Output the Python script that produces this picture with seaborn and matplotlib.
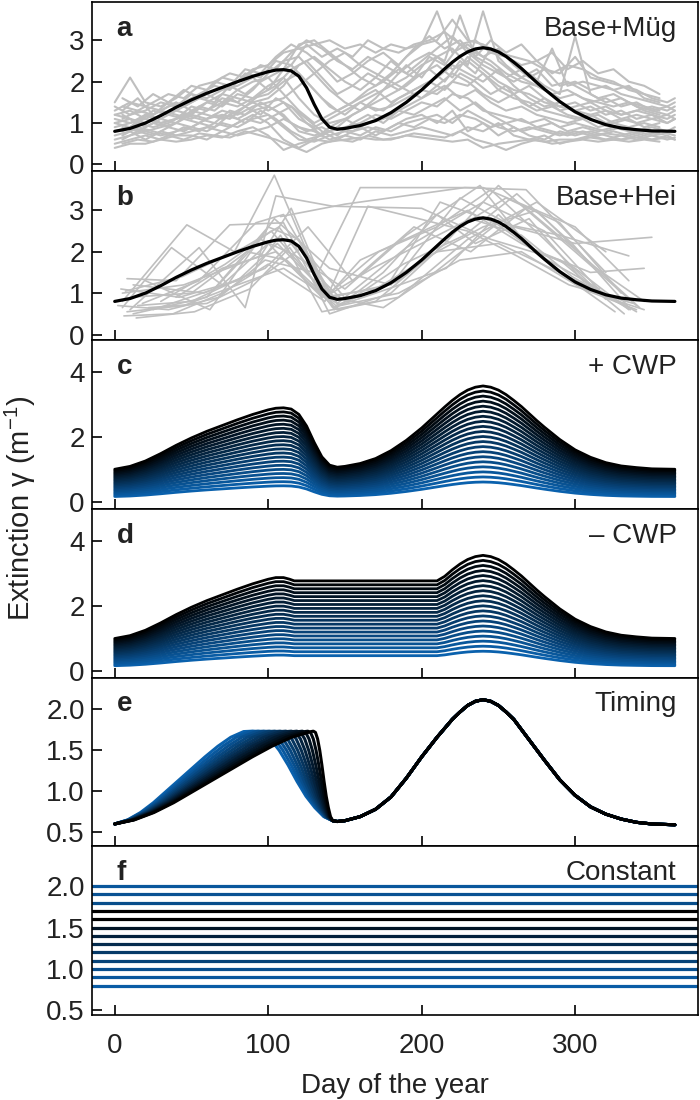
import numpy as np
import pandas as pd
import matplotlib
matplotlib.use("Agg")
import matplotlib.pyplot as plt
import seaborn as sns

# smooth base extinction curve (black line in a and b)
base_days = [0, 10, 20, 30, 40, 50, 60, 70, 80, 90, 100, 105, 110, 115, 120, 125, 130, 135, 140, 145,
             150, 160, 170, 180, 190, 200, 205, 210, 215, 220, 225, 230, 235, 240, 245, 250, 255, 260,
             265, 270, 275, 280, 290, 300, 310, 320, 330, 340, 350, 365]
base_ext = [0.80, 0.87, 1.00, 1.18, 1.38, 1.56, 1.72, 1.86, 2.00, 2.13, 2.24, 2.28, 2.29, 2.26, 2.13,
            1.85, 1.45, 1.10, 0.90, 0.85, 0.87, 0.94, 1.06, 1.25, 1.50, 1.80, 1.97, 2.14, 2.31, 2.47,
            2.61, 2.72, 2.79, 2.82, 2.79, 2.72, 2.61, 2.47, 2.32, 2.15, 1.98, 1.82, 1.52, 1.27, 1.09,
            0.96, 0.88, 0.84, 0.81, 0.80]

# base without clear water phase (panel d)
nocwp_days = [0, 10, 20, 30, 40, 50, 60, 70, 80, 90, 100, 105, 110, 114, 117, 210, 215, 220, 225, 230,
              235, 240, 245, 250, 255, 260, 265, 270, 275, 280, 290, 300, 310, 320, 330, 340, 350, 365]
nocwp_ext = [0.80, 0.87, 1.00, 1.18, 1.38, 1.56, 1.72, 1.86, 2.00, 2.13, 2.24, 2.28, 2.28, 2.24, 2.20,
             2.20, 2.31, 2.47, 2.61, 2.72, 2.79, 2.82, 2.79, 2.72, 2.61, 2.47, 2.32, 2.15, 1.98, 1.82,
             1.52, 1.27, 1.09, 0.96, 0.88, 0.84, 0.81, 0.80]

# scaling of the base curve in panels c and d
cwp_factors = [0.22, 0.275, 0.33, 0.385, 0.44, 0.495, 0.55, 0.605, 0.66, 0.715, 0.77, 0.825, 0.88,
               0.935, 0.99, 1.045, 1.10, 1.155, 1.21, 1.265]

# Müggelsee years (panel a): two sampling grids
mug_days = [0, 10, 20, 30, 40, 50, 60, 70, 80, 90, 100, 110, 120, 130, 140, 150, 160, 170, 180, 190,
            200, 210, 220, 230, 240, 250, 260, 270, 280, 290, 300, 310, 320, 330, 340, 350, 360, 365]
mug_series = [
    [1.5, 2.1, 1.5, 1.4, 1.6, 1.9, 1.8, 2.1, 2.0, 2.3, 2.4, 2.7, 2.8, 2.9, 3.0, 2.8, 2.9, 2.7, 2.9, 2.8,
     2.9, 3.0, 3.5, 3.0, 2.9, 2.7, 2.6, 2.5, 2.3, 2.2, 2.6, 2.1, 2.0, 1.9, 1.8, 1.6, 1.5, 1.6],
    [0.4, 0.5, 0.5, 0.6, 0.55, 0.6, 0.7, 0.65, 0.8, 0.9, 0.7, 0.35, 0.5, 0.6, 0.55, 0.6, 0.65, 0.6, 0.6, 0.7,
     0.65, 0.6, 0.55, 0.6, 0.4, 0.5, 0.55, 0.6, 0.55, 0.6, 0.6, 0.65, 0.6, 0.6, 0.65, 0.6, 0.65, 0.6],
    [1.0, 1.1, 1.0, 1.2, 1.3, 1.2, 1.5, 1.4, 1.7, 1.6, 1.9, 2.1, 1.6, 1.2, 1.0, 1.1, 1.3, 1.5, 1.7, 1.9,
     2.2, 2.4, 2.1, 2.6, 2.3, 2.0, 1.8, 1.7, 1.5, 1.4, 1.3, 1.2, 1.3, 1.1, 1.2, 1.1, 1.0, 1.1],
    [1.2, 1.3, 1.1, 1.0, 1.1, 1.4, 1.3, 1.6, 1.5, 1.8, 2.2, 2.5, 2.6, 2.2, 1.8, 1.5, 1.3, 1.6, 2.0, 2.4,
     2.1, 2.6, 2.8, 2.4, 3.7, 2.5, 2.2, 2.0, 1.8, 1.6, 1.7, 1.5, 1.6, 1.4, 1.5, 1.3, 1.4, 1.3],
    [0.8, 0.9, 0.8, 0.9, 1.0, 0.9, 1.1, 1.2, 1.1, 1.3, 1.4, 1.2, 0.8, 0.7, 0.8, 0.9, 1.0, 1.2, 1.1, 1.3,
     1.5, 1.4, 1.7, 1.6, 1.3, 1.2, 1.1, 1.0, 1.1, 0.9, 1.0, 0.9, 0.8, 0.9, 0.8, 0.9, 0.8, 0.9],
    [1.4, 1.2, 1.3, 1.5, 1.4, 1.7, 1.6, 1.8, 1.9, 2.1, 1.8, 2.3, 2.9, 3.0, 2.7, 2.4, 2.1, 1.9, 2.2, 2.6,
     2.9, 3.7, 2.7, 2.9, 2.6, 2.8, 2.4, 2.1, 2.3, 1.9, 2.0, 1.8, 1.9, 1.7, 1.6, 1.5, 1.4, 1.5],
    [0.6, 0.7, 0.8, 0.7, 0.8, 0.9, 0.8, 1.0, 0.9, 1.1, 1.2, 0.9, 0.6, 0.55, 0.7, 0.8, 0.7, 0.9, 0.8, 1.0,
     1.1, 1.2, 1.0, 1.3, 1.1, 0.9, 0.8, 0.9, 0.8, 0.7, 0.8, 0.7, 0.75, 0.7, 0.8, 0.7, 0.75, 0.7],
    [1.1, 1.0, 1.2, 1.1, 1.3, 1.5, 1.7, 1.5, 1.8, 2.0, 2.1, 1.7, 1.3, 1.0, 1.2, 1.4, 1.6, 1.8, 1.5, 1.7,
     1.9, 2.1, 2.4, 2.2, 2.0, 2.3, 1.9, 1.6, 1.4, 1.5, 1.3, 1.4, 1.2, 1.3, 1.1, 1.2, 1.1, 1.2],
    [0.9, 1.0, 1.1, 1.3, 1.2, 1.1, 1.3, 1.5, 1.4, 1.6, 1.7, 2.0, 2.2, 1.8, 1.4, 1.2, 1.5, 1.3, 1.4, 1.6,
     1.8, 1.7, 2.0, 1.9, 2.2, 1.8, 1.6, 1.5, 1.3, 1.2, 1.1, 1.2, 1.0, 1.1, 1.0, 1.1, 1.2, 1.1],
    [1.3, 1.5, 1.4, 1.3, 1.5, 1.3, 1.5, 1.7, 1.6, 1.5, 1.6, 1.9, 2.4, 2.6, 2.3, 2.0, 1.8, 2.1, 2.5, 2.2,
     2.5, 2.8, 3.1, 2.7, 2.4, 2.2, 2.0, 2.2, 1.9, 1.7, 3.1, 1.7, 1.5, 1.6, 1.4, 1.3, 1.2, 1.3],
    [0.7, 0.8, 0.6, 0.8, 0.7, 0.8, 0.9, 0.8, 1.0, 1.2, 1.0, 0.6, 0.4, 0.6, 0.9, 1.1, 0.9, 0.7, 0.9, 1.1,
     1.2, 1.0, 1.3, 0.8, 1.0, 0.7, 0.9, 0.7, 0.6, 0.8, 0.7, 0.8, 0.7, 0.6, 0.7, 0.6, 0.7, 0.6],
    [1.0, 0.9, 1.2, 1.0, 1.1, 1.2, 1.1, 1.3, 1.2, 1.4, 1.5, 1.6, 1.9, 2.2, 2.5, 2.7, 2.4, 2.2, 2.0, 1.8,
     1.6, 1.9, 2.2, 2.0, 1.7, 1.5, 1.7, 1.4, 1.6, 1.3, 1.4, 1.5, 1.3, 1.2, 1.3, 1.2, 1.0, 1.1],
    [1.2, 1.1, 0.9, 1.1, 1.0, 1.3, 1.2, 1.1, 1.3, 1.5, 1.3, 1.5, 1.1, 0.9, 1.1, 1.3, 1.5, 1.7, 1.9, 2.1,
     2.4, 2.6, 2.3, 2.5, 2.2, 1.9, 1.7, 1.9, 1.6, 1.4, 1.5, 1.3, 1.4, 1.2, 1.3, 1.4, 1.3, 1.4],
    [0.5, 0.6, 0.7, 0.6, 0.7, 0.7, 0.6, 0.8, 0.7, 0.8, 0.9, 1.1, 0.9, 0.8, 0.6, 0.7, 0.6, 0.8, 0.7, 0.8,
     0.9, 0.8, 0.7, 0.9, 0.8, 1.0, 0.7, 0.6, 0.7, 0.5, 0.6, 0.7, 0.6, 0.7, 0.6, 0.7, 0.6, 0.65],
]
mug_days2 = [5, 15, 25, 35, 45, 55, 65, 75, 85, 95, 105, 115, 125, 135, 145, 155, 165, 175, 185, 195,
             205, 215, 225, 235, 245, 255, 265, 275, 285, 295, 305, 315, 325, 335, 345, 355]
mug_series2 = [
    [1.3, 1.6, 1.2, 1.4, 1.5, 1.7, 1.9, 1.8, 2.2, 2.1, 2.5, 2.4, 2.9, 2.6, 2.8, 2.6, 3.0, 2.8, 2.7, 2.9,
     3.0, 3.2, 2.9, 3.0, 2.7, 2.6, 2.4, 2.5, 2.2, 2.4, 2.3, 2.1, 2.0, 1.8, 1.7, 1.6],
    [0.6, 0.8, 0.7, 0.9, 0.8, 1.0, 0.9, 1.2, 1.0, 1.3, 1.1, 0.8, 0.6, 0.7, 0.9, 0.8, 1.0, 1.1, 1.3, 1.2,
     1.4, 1.6, 1.3, 1.5, 1.2, 1.0, 1.1, 0.9, 1.0, 0.8, 0.9, 0.8, 0.9, 0.8, 0.7, 0.8],
    [1.1, 1.3, 1.2, 1.5, 1.4, 1.6, 1.5, 1.9, 1.7, 2.0, 2.2, 2.4, 2.0, 1.6, 1.3, 1.5, 1.8, 2.0, 2.3, 2.1,
     2.6, 2.4, 2.9, 2.7, 2.5, 2.2, 2.0, 1.9, 1.7, 1.8, 1.6, 1.5, 1.4, 1.5, 1.3, 1.2],
    [0.9, 0.8, 1.0, 0.9, 1.1, 1.0, 1.2, 1.1, 1.4, 1.2, 1.6, 1.4, 1.0, 0.7, 0.9, 1.2, 1.4, 1.3, 1.6, 1.8,
     2.0, 1.8, 2.2, 2.0, 1.7, 1.9, 1.5, 1.3, 1.4, 1.2, 1.1, 1.2, 1.0, 1.1, 0.9, 1.0],
    [1.6, 1.4, 1.7, 1.5, 1.8, 1.6, 2.0, 1.9, 2.3, 2.2, 2.6, 2.9, 2.7, 2.4, 2.0, 2.2, 2.5, 2.7, 2.4, 2.8,
     3.1, 2.8, 3.0, 2.6, 3.0, 2.7, 2.9, 2.5, 2.7, 2.3, 2.5, 2.2, 2.3, 2.0, 1.9, 1.7],
    [0.5, 0.6, 0.55, 0.7, 0.6, 0.75, 0.7, 0.65, 0.8, 0.7, 0.6, 0.45, 0.3, 0.5, 0.6, 0.55, 0.7, 0.6, 0.65,
     0.75, 0.7, 0.65, 0.8, 0.6, 0.5, 0.35, 0.5, 0.6, 0.5, 0.55, 0.6, 0.55, 0.6, 0.55, 0.6, 0.55],
    [1.2, 1.0, 1.3, 1.2, 1.1, 1.4, 1.3, 1.6, 1.4, 1.7, 1.9, 2.3, 2.5, 2.1, 1.7, 1.9, 2.2, 2.0, 1.8, 2.1,
     2.3, 2.0, 2.5, 2.2, 2.8, 2.4, 2.1, 2.3, 1.9, 2.0, 1.8, 1.6, 1.7, 1.5, 1.4, 1.3],
    [0.8, 1.0, 0.9, 1.0, 1.2, 1.1, 1.0, 1.3, 1.2, 1.5, 1.3, 1.0, 0.8, 0.9, 0.7, 1.0, 1.2, 1.0, 1.3, 1.5,
     1.7, 1.9, 1.6, 1.8, 1.5, 1.3, 1.4, 1.2, 1.1, 1.0, 1.1, 0.9, 1.0, 0.9, 1.0, 0.9],
    [1.4, 1.3, 1.5, 1.7, 1.6, 1.9, 2.0, 2.2, 2.1, 2.4, 2.3, 2.7, 3.0, 2.8, 2.5, 2.3, 2.6, 2.4, 2.2, 2.5,
     2.7, 2.5, 3.6, 2.6, 2.4, 2.1, 2.3, 2.0, 2.8, 1.9, 2.0, 1.9, 1.8, 1.9, 1.6, 1.5],
    [0.7, 0.9, 0.8, 0.7, 0.9, 0.8, 1.0, 0.9, 1.1, 1.0, 1.2, 1.4, 1.1, 0.8, 0.6, 0.8, 0.9, 0.8, 1.0, 0.9,
     1.1, 1.0, 1.2, 1.1, 0.9, 1.0, 0.8, 0.9, 0.8, 0.7, 0.8, 0.7, 0.8, 0.7, 0.8, 0.75],
]

# Heiligensee years (panel b), sparse sampling
hei_days = [
    [5, 47, 78, 104, 138, 160, 230, 265, 300, 335],
    [10, 55, 85, 105, 142, 200, 245, 290, 332],
    [8, 40, 75, 110, 140, 180, 215, 250, 300, 340],
    [12, 60, 100, 120, 145, 190, 240, 280, 320, 345],
    [5, 45, 95, 115, 143, 175, 210, 235, 270, 305, 340],
    [15, 50, 90, 108, 135, 170, 205, 240, 275, 310, 345],
    [6, 38, 70, 100, 137, 165, 198, 230, 262, 296, 338],
    [20, 62, 104, 140, 180, 225, 260, 300, 350],
    [10, 50, 86, 112, 144, 185, 220, 255, 290, 330],
    [25, 65, 95, 118, 150, 190, 238, 270, 310, 345],
    [4, 42, 80, 106, 139, 168, 200, 232, 265, 298, 336],
    [30, 72, 102, 130, 160, 240, 300, 335],
    [8, 45, 80, 110, 147, 185, 225, 265, 305, 340],
    [18, 55, 92, 110, 140, 172, 210, 245, 280, 320],
    [12, 58, 98, 126, 155, 195, 232, 268, 305, 342],
    [2, 35, 68, 98, 130, 148, 175, 205, 250, 290, 335],
    [40, 70, 105, 145, 185, 230, 275, 320],
    [14, 52, 88, 114, 142, 178, 216, 250, 286, 326],
    [7, 44, 84, 107, 141, 178, 212, 248, 282, 316],
    [22, 60, 96, 122, 152, 188, 228, 262, 298, 334],
    [108, 150, 228, 268, 320],
    [5, 37, 70, 100, 135, 170, 210, 250, 290, 330],
]
hei_ext = [
    [0.8, 2.65, 2.0, 3.85, 0.9, 1.8, 3.0, 2.2, 1.6, 0.6],
    [0.6, 2.1, 0.65, 3.35, 3.1, 3.05, 2.3, 1.8, 0.5],
    [1.35, 1.3, 2.65, 2.7, 0.5, 1.0, 2.2, 3.6, 2.0, 0.7],
    [0.5, 0.9, 2.6, 2.3, 0.75, 2.1, 3.2, 2.5, 0.9, 0.6],
    [1.0, 1.2, 1.9, 3.05, 0.6, 1.5, 2.9, 2.2, 2.8, 1.3, 0.55],
    [0.7, 0.8, 1.5, 2.4, 0.55, 0.8, 1.9, 2.6, 3.0, 1.7, 0.8],
    [0.45, 0.5, 1.0, 1.7, 0.8, 3.1, 2.8, 2.5, 1.9, 1.2, 0.75],
    [1.3, 0.6, 2.8, 1.6, 1.2, 3.3, 2.6, 2.2, 2.35],
    [0.9, 1.0, 2.0, 1.8, 0.7, 1.3, 2.5, 3.3, 2.7, 1.0],
    [0.6, 1.1, 2.3, 1.9, 1.1, 2.4, 3.6, 2.1, 1.5, 1.6],
    [1.1, 0.9, 1.3, 2.2, 0.95, 1.6, 2.2, 2.8, 2.4, 1.4, 0.6],
    [0.8, 1.7, 2.5, 1.3, 3.55, 3.55, 2.6, 1.3],
    [0.55, 0.7, 1.2, 1.6, 0.7, 1.0, 1.8, 2.0, 1.1, 0.6],
    [0.75, 1.3, 2.7, 2.9, 1.0, 2.0, 2.6, 3.5, 2.3, 0.85],
    [1.2, 1.0, 1.6, 2.6, 1.3, 2.6, 2.0, 3.05, 1.9, 0.65],
    [0.7, 0.6, 0.9, 1.8, 1.5, 0.85, 0.65, 1.4, 2.7, 2.4, 1.9],
    [0.9, 1.6, 2.0, 0.6, 0.9, 2.3, 3.2, 2.0],
    [0.4, 0.55, 1.1, 2.1, 0.65, 1.1, 1.6, 2.9, 1.6, 0.55],
    [1.05, 1.4, 2.1, 2.6, 0.9, 1.2, 3.2, 2.7, 1.8, 1.1],
    [0.65, 0.75, 1.4, 2.1, 0.8, 1.7, 2.4, 3.4, 2.2, 0.7],
    [2.85, 3.15, 3.55, 3.5, 1.5],
    [0.65, 2.1, 1.2, 2.2, 0.9, 1.1, 2.0, 2.2, 1.5, 0.75],
]

# timing scenarios (panel e): spring shape on normalised time, peak days, shared summer part
e_rise_u = [0, 0.1, 0.2, 0.3, 0.4, 0.5, 0.6, 0.7, 0.8, 0.9, 1.0]
e_rise_ext = [0.60, 0.65, 0.74, 0.86, 1.00, 1.14, 1.28, 1.42, 1.55, 1.66, 1.73]
e_fall_v = [0.1, 0.2, 0.3, 0.4, 0.5, 0.6, 0.7, 0.8, 0.9, 1.0]
e_fall_ext = [1.735, 1.72, 1.64, 1.50, 1.32, 1.12, 0.94, 0.80, 0.69, 0.64]
e_drop_end = 142
e_peaks = [84, 88, 92, 96, 100, 104, 108, 112, 116, 120, 124, 128]
e_summer_days = [145, 150, 160, 170, 180, 190, 200, 210, 220, 225, 230, 235, 240, 245, 250, 255, 260,
                 270, 280, 290, 300, 310, 320, 330, 340, 350, 365]
e_summer_ext = [0.63, 0.64, 0.69, 0.78, 0.93, 1.16, 1.42, 1.66, 1.88, 1.97, 2.05, 2.10, 2.12, 2.10,
                2.05, 1.97, 1.88, 1.63, 1.38, 1.14, 0.95, 0.81, 0.72, 0.66, 0.62, 0.60, 0.59]

# constant scenarios (panel f) and their shade (1 = blue, 0 = black)
const_levels = [0.8, 0.9, 1.0, 1.1, 1.2, 1.3, 1.4, 1.5, 1.6, 1.7, 1.8, 1.9, 2.0]
const_shade = [0.95, 0.9, 0.82, 0.7, 0.6, 0.45, 0.35, 0.22, 0.0, 0.0, 0.8, 0.85, 0.9]

panel_letters = ["a", "b", "c", "d", "e", "f"]
panel_names = ["Base+Müg", "Base+Hei", "+ CWP", "– CWP", "Timing", "Constant"]

BLUE = np.array([0.04, 0.38, 0.68])
GREY = "#bfbfbf"


def shade(t):
    return tuple(BLUE * t)


def ramp(n):
    # first entry blue, last entry black
    return [shade(1 - i / (n - 1)) for i in range(n)]


sns.set_theme(style="ticks")
plt.rcParams["font.family"] = ["Liberation Sans", "DejaVu Sans"]
plt.rcParams["mathtext.fontset"] = "custom"
plt.rcParams["mathtext.rm"] = "Liberation Sans"
plt.rcParams["mathtext.it"] = "Liberation Sans:italic"
FS = 20

fig, axes = plt.subplots(6, 1, figsize=(7, 11), sharex=True)
fig.subplots_adjust(left=0.131, right=0.997, top=0.998, bottom=0.077, hspace=0)

# a: Müggelsee
ax = axes[0]
rows = [(d, v, "g1_%d" % i) for i, s in enumerate(mug_series) for d, v in zip(mug_days, s)]
rows += [(d, v, "g2_%d" % i) for i, s in enumerate(mug_series2) for d, v in zip(mug_days2, s)]
df_a = pd.DataFrame(rows, columns=["day", "ext", "year"])
sns.lineplot(data=df_a, x="day", y="ext", units="year", estimator=None, color=GREY,
             linewidth=1.5, sort=False, ax=ax)
sns.lineplot(x=base_days, y=base_ext, color="black", linewidth=2.3, ax=ax)

# b: Heiligensee
ax = axes[1]
rows = [(d, v, i) for i, (ds, vs) in enumerate(zip(hei_days, hei_ext)) for d, v in zip(ds, vs)]
df_b = pd.DataFrame(rows, columns=["day", "ext", "year"])
sns.lineplot(data=df_b, x="day", y="ext", units="year", estimator=None, color=GREY,
             linewidth=1.2, sort=False, ax=ax)
sns.lineplot(x=base_days, y=base_ext, color="black", linewidth=2.3, ax=ax)

# c and d: scaled families
for ax, days, ext in [(axes[2], base_days, base_ext), (axes[3], nocwp_days, nocwp_ext)]:
    rows = [(d, v * f, "k%02d" % i) for i, f in enumerate(cwp_factors) for d, v in zip(days, ext)]
    df_c = pd.DataFrame(rows, columns=["day", "ext", "curve"])
    sns.lineplot(data=df_c, x="day", y="ext", hue="curve", units="curve", estimator=None,
                 palette=ramp(len(cwp_factors)), linewidth=2.0, sort=False, legend=False, ax=ax)

# e: timing
ax = axes[4]
rows = []
for i, tp in enumerate(e_peaks):
    for u, v in zip(e_rise_u, e_rise_ext):
        rows.append((u * tp, v, "k%02d" % i))
    for w, v in zip(e_fall_v, e_fall_ext):
        rows.append((tp + w * (e_drop_end - tp), v, "k%02d" % i))
    for d, v in zip(e_summer_days, e_summer_ext):
        rows.append((d, v, "k%02d" % i))
df_e = pd.DataFrame(rows, columns=["day", "ext", "curve"])
sns.lineplot(data=df_e, x="day", y="ext", hue="curve", units="curve", estimator=None,
             palette=ramp(len(e_peaks)), linewidth=2.2, sort=False, legend=False, ax=ax)

# f: constant
ax = axes[5]
for lev, s in zip(const_levels, const_shade):
    ax.axhline(lev, color=shade(s), linewidth=2.3)

ylims = [(-0.16, 3.92), (-0.13, 3.95), (-0.2, 4.98), (-0.19, 5.0), (0.325, 2.39), (0.44, 2.48)]
yticks = [[0, 1, 2, 3], [0, 1, 2, 3], [0, 2, 4], [0, 2, 4],
          [0.5, 1.0, 1.5, 2.0], [0.5, 1.0, 1.5, 2.0]]
for i, ax in enumerate(axes):
    ax.set_xlim(-15, 380)
    ax.set_ylim(*ylims[i])
    ax.set_yticks(yticks[i])
    if i >= 4:
        ax.set_yticklabels(["%.1f" % t for t in yticks[i]])
    ax.set_xticks([0, 100, 200, 300])
    ax.set_xlabel("")
    ax.set_ylabel("")
    for sp in ax.spines.values():
        sp.set_visible(True)
        sp.set_linewidth(1.2)
        sp.set_color("black")
    ax.tick_params(direction="in", length=7.5, width=1.2, labelsize=FS, colors="black",
                   labelcolor="#222222", top=False, right=False)
    ax.tick_params(axis="y", pad=5)
    ax.tick_params(axis="x", pad=13)
    ax.text(0.041, 0.80, panel_letters[i], transform=ax.transAxes, fontsize=FS,
            fontweight="bold", va="baseline", ha="left", color="#222222")
    ax.text(0.965, 0.80, panel_names[i], transform=ax.transAxes, fontsize=FS,
            va="baseline", ha="right", color="#222222")

fig.text(0.029, (0.998 + 0.077) / 2, "Extinction γ (m$^{-1}$)", rotation=90, fontsize=21,
         va="center", ha="center", color="#222222")
fig.text(0.564, 0.0065, "Day of the year", fontsize=FS, va="baseline", ha="center",
         color="#222222")

fig.savefig("out.png", dpi=100)
